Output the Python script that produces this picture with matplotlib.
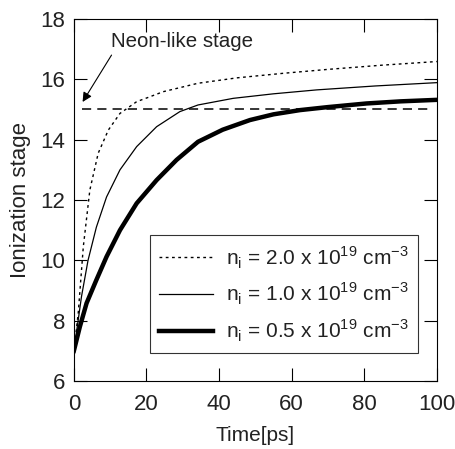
import numpy as np
import matplotlib
matplotlib.use('Agg')
import matplotlib.pyplot as plt

plt.rcParams['font.family'] = ['Liberation Sans', 'DejaVu Sans']
plt.rcParams['mathtext.fontset'] = 'custom'
plt.rcParams['mathtext.rm'] = 'Liberation Sans'

# ionization stage vs time for three ion densities
t_hi = [0, 1.2, 2.6, 4.4, 6.7, 9.5, 12.7, 17.3, 20.9, 24.6, 34.2, 45, 57.7, 70, 85, 100]
z_hi = [7, 8.25, 10.45, 12.33, 13.55, 14.32, 14.87, 15.26, 15.42, 15.59, 15.87, 16.05, 16.2, 16.33, 16.47, 16.59]

t_mid = [0, 0.7, 2.1, 3.9, 6.2, 9.0, 12.7, 17.3, 22.8, 29.2, 34.2, 43.9, 55, 66.9, 83, 100]
z_mid = [7, 7.6, 8.8, 10.0, 11.1, 12.1, 13.0, 13.77, 14.43, 14.93, 15.15, 15.37, 15.52, 15.65, 15.78, 15.89]

t_lo = [0, 1.65, 3.5, 6.2, 9.0, 12.7, 17.3, 22.8, 28.3, 34.2, 41, 48.5, 55, 62.3, 70, 80.6, 90, 100]
z_lo = [7, 7.8, 8.58, 9.35, 10.12, 11.0, 11.89, 12.66, 13.33, 13.93, 14.33, 14.65, 14.84, 14.98, 15.08, 15.2, 15.27, 15.32]

neon_stage = 15
neon_range = [2.2, 97.5]

labels = [r'n$_\mathregular{i}$ = 2.0 x 10$^\mathregular{19}$ cm$^\mathregular{-3}$',
          r'n$_\mathregular{i}$ = 1.0 x 10$^\mathregular{19}$ cm$^\mathregular{-3}$',
          r'n$_\mathregular{i}$ = 0.5 x 10$^\mathregular{19}$ cm$^\mathregular{-3}$']

fig = plt.figure(figsize=(4.56, 4.49), dpi=100)
ax = fig.add_axes([0.162, 0.1514, 0.796, 0.8063])

ax.plot(t_hi, z_hi, color='black', lw=1.0, ls=(0, (2, 2.5)), label=labels[0])
ax.plot(t_mid, z_mid, color='black', lw=0.9, label=labels[1])
ax.plot(t_lo, z_lo, color='black', lw=3.2, label=labels[2], solid_joinstyle='round')
ax.plot(neon_range, [neon_stage, neon_stage], color='black', lw=1.1, ls=(0, (6, 4)))

ax.annotate('Neon-like stage', xy=(2.4, 15.25), xytext=(10.2, 17.25),
            fontsize=14.8, color='#222222', va='center', ha='left',
            arrowprops=dict(arrowstyle='-|>', color='black', lw=0.8, relpos=(0.03, 0.1),
                            mutation_scale=14, shrinkA=1, shrinkB=0))

ax.set_xlim(0, 100)
ax.set_ylim(6, 18)
ax.set_xticks([0, 20, 40, 60, 80, 100])
ax.set_yticks([6, 8, 10, 12, 14, 16, 18])
ax.tick_params(direction='in', top=True, right=True, length=9.5, width=0.8,
               labelsize=16, labelcolor='#222222')
ax.tick_params(axis='x', pad=9)
ax.tick_params(axis='y', pad=6)
for s in ax.spines.values():
    s.set_linewidth(0.8)

ax.set_xlabel('Time[ps]', fontsize=15, color='#222222', labelpad=8)
ax.set_ylabel('Ionization stage', fontsize=16, color='#222222', labelpad=7)

leg = ax.legend(loc='lower right', bbox_to_anchor=(0.948, 0.077), borderaxespad=0,
                fontsize=15, frameon=True, fancybox=False, edgecolor='black',
                handlelength=2.6, handletextpad=0.6, labelspacing=0.5, borderpad=0.45)
leg.get_frame().set_linewidth(0.8)
for txt in leg.get_texts():
    txt.set_color('#222222')

plt.savefig('out.png', dpi=100)
